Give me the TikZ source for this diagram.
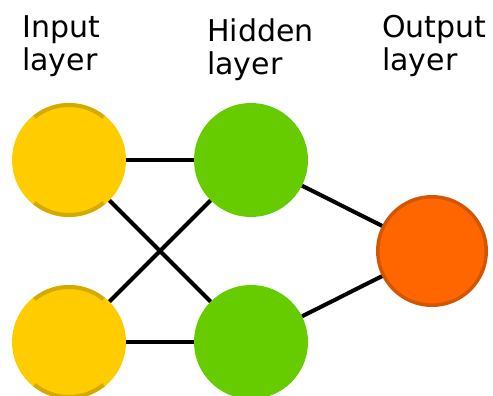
\documentclass[tikz,border=0pt]{standalone}
\usepackage{fontspec}
\setmainfont{DejaVu Sans}
\definecolor{inyellow}{HTML}{FFCC00}
\definecolor{inrim}{HTML}{D4AA00}
\definecolor{hidgreen}{HTML}{66CC00}
\definecolor{outorange}{HTML}{FF6600}
\definecolor{outrim}{HTML}{D45500}
\begin{document}
\begin{tikzpicture}[x=1pt,y=-1pt,
    neuron/.style={circle,inner sep=0pt,minimum size=114pt},
    link/.style={line width=4pt},
    rim/.style={inrim,line width=4pt},
    title/.style={anchor=base west,inner sep=0pt,align=left,
        font=\fontsize{30}{34}\selectfont}]
    \useasboundingbox (0,0) rectangle (493,396);
    %% neurons
    \node[neuron,fill=inyellow] (in1) at (69,160) {};
    \node[neuron,fill=inyellow] (in2) at (69,342) {};
    \node[neuron,fill=hidgreen] (hid1) at (251,160) {};
    \node[neuron,fill=hidgreen] (hid2) at (251,342) {};
    \node[neuron,fill=outorange,draw=outrim,line width=3.5pt,
        minimum size=108.5pt] (out) at (432,251) {};
    %% rims
    \draw[rim] (in1.center) ++(231:55) arc[start angle=231,end angle=309,radius=55];
    \draw[rim] (in1.center) ++(51:55) arc[start angle=51,end angle=129,radius=55];
    \draw[rim] (in2.center) ++(231:55) arc[start angle=231,end angle=309,radius=55];
    \draw[rim] (in2.center) ++(51:55) arc[start angle=51,end angle=129,radius=55];
    %% links
    \draw[link] (in1) -- (hid1);
    \draw[link] (in1) -- (hid2);
    \draw[link] (in2) -- (hid1);
    \draw[link] (in2) -- (hid2);
    \draw[link] (hid1) -- (out);
    \draw[link] (hid2) -- (out);
    %% labels
    \node[title] (tin) at (22,71) {Input\\layer};
    \node[title] (thid) at (207,75) {Hidden\\layer};
    \node[title] (tout) at (382,71) {Output\\layer};
\end{tikzpicture}
\end{document}
